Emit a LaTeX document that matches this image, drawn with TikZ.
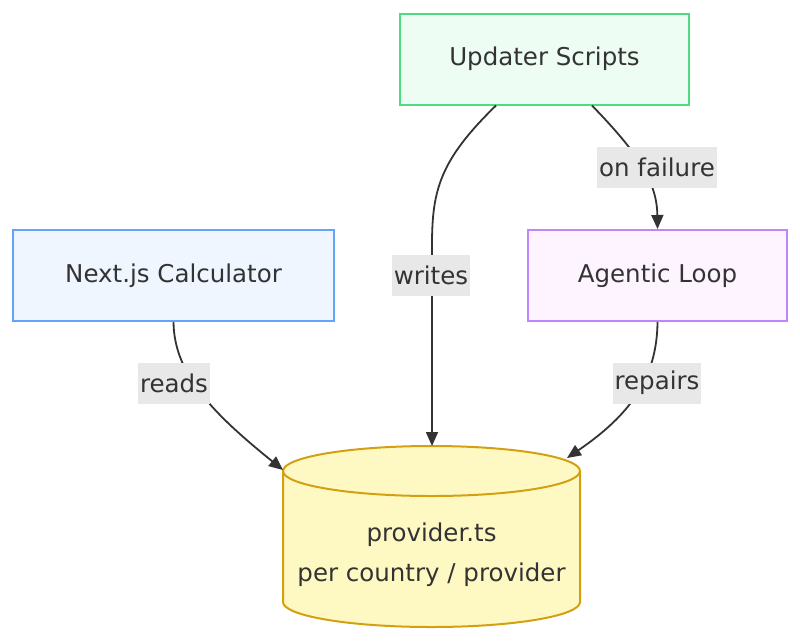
\documentclass[tikz,border=0pt]{standalone}
\usepackage{fontspec}
\setmainfont{DejaVu Sans}
\usetikzlibrary{arrows.meta,calc}
\definecolor{txt}{HTML}{333333}
\definecolor{gfill}{HTML}{EDFDF3}
\definecolor{gline}{HTML}{4ADE80}
\definecolor{bfill}{HTML}{EFF6FF}
\definecolor{bline}{HTML}{60A5FA}
\definecolor{pfill}{HTML}{FDF4FF}
\definecolor{pline}{HTML}{C084FC}
\definecolor{yfill}{HTML}{FEF9C3}
\definecolor{yline}{HTML}{D4A012}
\definecolor{lbl}{HTML}{E8E8E8}
\begin{document}
\begin{tikzpicture}[x=1pt,y=-1pt,
  box/.style={draw, line width=2pt, minimum height=91pt, inner sep=0pt, text=txt, font=\fontsize{24.5}{29}\selectfont},
  edge/.style={draw=txt, line width=1.8pt, -{Triangle[length=14pt,width=12pt]}},
  elabel/.style={fill=lbl, text=txt, inner xsep=2pt, inner ysep=0pt, minimum height=41pt, font=\fontsize{24.5}{29}\selectfont}]
\useasboundingbox (0,0) rectangle (800,641);
\fill[white] (0,0) rectangle (800,641);
\node[box, draw=gline, fill=gfill, minimum width=289pt] (upd) at (544.5,59) {Updater Scripts};
\node[box, draw=bline, fill=bfill, minimum width=321pt] (calc) at (173.5,275.5) {Next.js Calculator};
\node[box, draw=pline, fill=pfill, minimum width=259pt] (loop) at (657.5,275.5) {Agentic Loop};
% cylinder
\filldraw[fill=yfill, draw=yline, line width=2pt]
  (283,471) -- (283,602) arc[start angle=180, end angle=360, x radius=148.5pt, y radius=25pt]
  -- (580,471) arc[start angle=0, end angle=180, x radius=148.5pt, y radius=25pt] -- cycle;
\draw[draw=yline, line width=2pt] (283,471) arc[start angle=180, end angle=360, x radius=148.5pt, y radius=25pt];
\node[text=txt, align=center, font=\fontsize{24.5}{40}\selectfont] (db) at (431.5,555) {provider.ts\\per country / provider};
\coordinate (dbL) at (283,470);
\coordinate (dbT) at (432,446);
\coordinate (dbR) at (567,458);
% edges
\coordinate (u1) at ($(upd.south)+(-48.5,0)$);
\coordinate (u2) at ($(upd.south)+(47.5,0)$);
\draw[edge] (u1) .. controls (440,160) and (432,190) .. (432,245) -- (dbT);
\node[elabel] (lw) at (431,275) {writes};
\draw[edge] (u2) .. controls (635,150) and (657,180) .. (loop.north);
\node[elabel] (lf) at (657,167) {on failure};
\draw[edge] (calc.south) .. controls (174,375) and (215,415) .. (dbL);
\node[elabel] (lr) at (174,383) {reads};
\draw[edge] (loop.south) .. controls (657,378) and (630,415) .. (dbR);
\node[elabel] (lp) at (657,383) {repairs};
\end{tikzpicture}
\end{document}
